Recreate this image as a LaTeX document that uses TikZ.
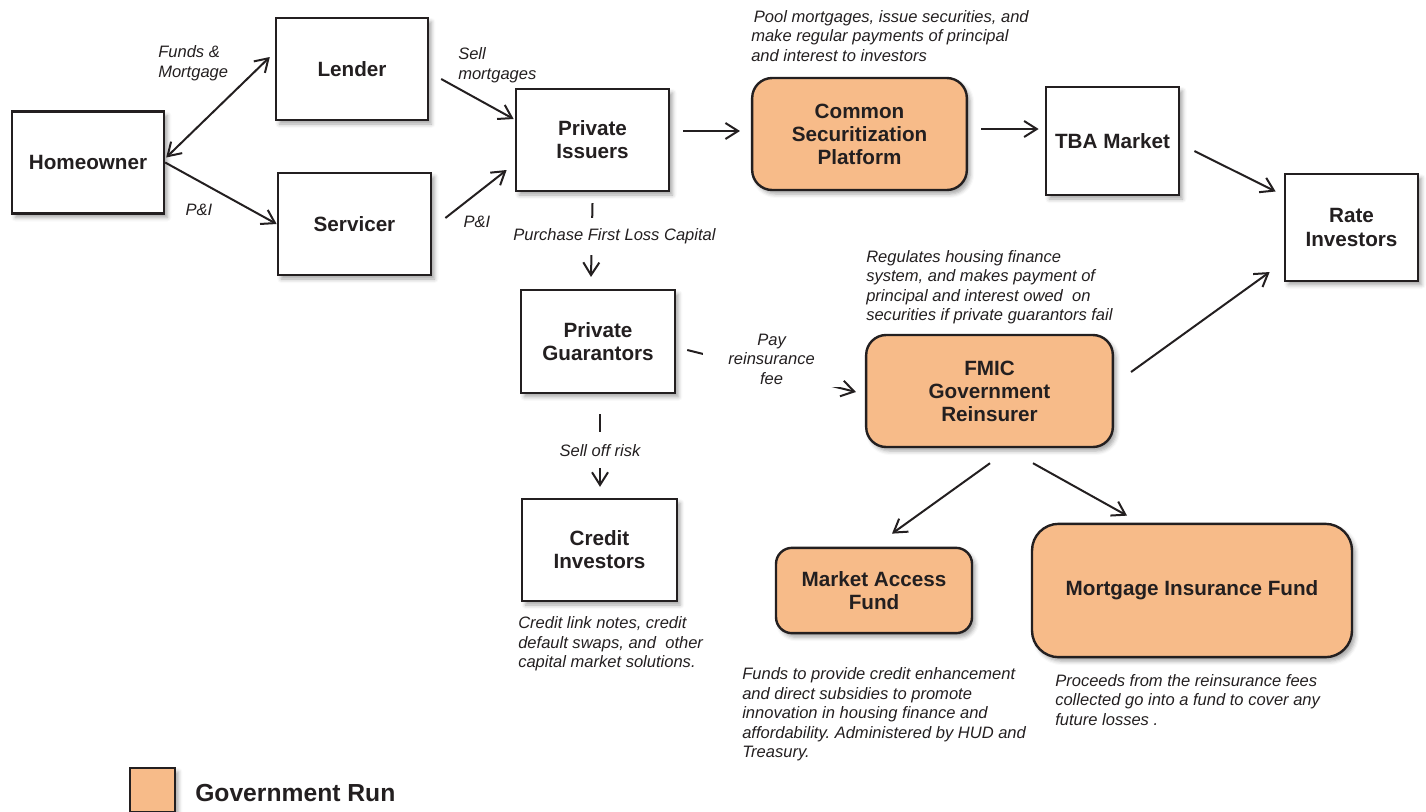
\documentclass[tikz,border=0pt]{standalone}
\usepackage{fontspec}
\setmainfont{Liberation Sans}
\usepackage{xcolor}
\usetikzlibrary{arrows.meta,shadows.blur}
\definecolor{govrun}{RGB}{247,187,137}
\definecolor{ink}{RGB}{35,31,32}
\frenchspacing

\begin{document}
\begin{tikzpicture}[
    x=0.75pt, y=-0.75pt,
    >={Straight Barb[length=9.5pt,width=12pt]},
    every node/.style={text=ink},
    box/.style={draw=ink, line width=1.8pt, fill=white, minimum width=114pt, minimum height=76.5pt, align=center, font=\bfseries\fontsize{15.5}{17.3}\selectfont, blur shadow={shadow xshift=2.5pt, shadow yshift=-3pt, shadow blur radius=3pt, shadow opacity=35}},
    gov/.style={box, fill=govrun, rounded corners=15pt},
    note/.style={align=left, anchor=west, inner sep=0pt, font=\itshape\fontsize{12.4}{14.6}\selectfont},
    lbl/.style={align=center, fill=white, font=\itshape\fontsize{12.4}{14.6}\selectfont},
    flow/.style={->, draw=ink, line width=1.5pt},
]
    \useasboundingbox (0,0) rectangle (1426,811);

    % private side
    \node[box] (home) at (88,162.5) {Homeowner};
    \node[box] (lender) at (352,69) {Lender};
    \node[box, minimum width=115pt] (servicer) at (354.5,224) {Servicer};
    \node[box, minimum width=115pt] (issuers) at (592.5,140) {Private\\Issuers};
    \node[box, minimum width=115.5pt, minimum height=77pt] (guarantors) at (598,341.5) {Private\\Guarantors};
    \node[box, minimum width=116pt] (credit) at (599.5,550) {Credit\\Investors};
    \node[box, minimum width=100pt, minimum height=81pt] (tba) at (1112.5,141) {TBA Market};
    \node[box, minimum width=100pt, minimum height=80pt] (rate) at (1351.5,227.5) {Rate\\Investors};

    % government side
    \node[gov, minimum width=161pt, minimum height=84pt] (csp) at (859.5,134) {Common\\Securitization\\Platform};
    \node[gov, minimum width=185pt, minimum height=84pt] (fmic) at (989.5,391) {FMIC\\Government\\Reinsurer};
    \node[gov, minimum width=147pt, minimum height=64pt, rounded corners=12pt] (maf) at (874,590.5) {Market Access\\Fund};
    \node[gov, minimum width=240pt, minimum height=100pt, rounded corners=20pt] (mif) at (1192,590.5) {Mortgage Insurance Fund};

    % flows
    \draw[flow, <->] ([shift={(1,-5)}]home.east) -- ([shift={(-5,-12)}]lender.west);
    \draw[flow] (home.east) -- (servicer.west);
    \draw[flow] ([shift={(12,10)}]lender.east) -- ([shift={(-1,-21)}]issuers.west);
    \draw[flow] ([shift={(13,-6)}]servicer.east) -- ([shift={(-8,30)}]issuers.west);
    \draw[flow] ([shift={(13,-9)}]issuers.east) -- ([shift={(-11,-3)}]csp.west);
    \draw[flow] ([shift={(13,-5)}]csp.east) -- ([shift={(-6,-12)}]tba.west);
    \draw[flow] ([shift={(14,10)}]tba.east) -- ([shift={(-8,-36)}]rate.west);
    \draw[flow] ([shift={(17,-19)}]fmic.east) -- ([shift={(-14,-10)}]rate.south west);
    \draw[flow] ([shift={(0,11)}]issuers.south) -- node[lbl, pos=0.45, xshift=17pt, inner ysep=8pt] {Purchase First Loss Capital} ([shift={(-7,-12)}]guarantors.north);
    \draw[flow] ([shift={(2,20)}]guarantors.south) -- node[lbl, inner ysep=9pt] {Sell off risk} ([shift={(0.5,-11)}]credit.north);
    \draw[flow] ([shift={(11,8.5)}]guarantors.east) -- node[lbl, yshift=9pt, inner xsep=19pt, inner ysep=2pt] {Pay\\reinsurance\\fee} ([shift={(-9,1)}]fmic.west);
    \draw[flow] ([shift={(0.5,15)}]fmic.south) -- ([shift={(18,-13)}]maf.north);
    \draw[flow] ([shift={(43.5,15)}]fmic.south) -- ([shift={(-65,-7)}]mif.north);

    % labels and notes
    \node[note] (fundslbl) at (158,63) {Funds \&\\Mortgage};
    \node[note, anchor=center] (pilbl) at (199,210) {P\&I};
    \node[note] (selllbl) at (458,65) {Sell\\mortgages};
    \node[note, anchor=center] (pilbltwo) at (477,222) {P\&I};
    \node[note] (cspnote) at (751,36) {\hspace{2pt}Pool mortgages, issue securities, and\\make regular payments of principal\\and interest to investors};
    \node[note] (fmicnote) at (866,287) {Regulates housing finance\\system, and makes payment of\\principal and interest owed~ on\\securities if private guarantors fail};
    \node[note] (creditnote) at (518,644) {Credit link notes, credit\\default swaps, and~ other\\capital market solutions.};
    \node[note] (mafnote) at (742,714.5) {Funds to provide credit enhancement\\and direct subsidies to promote\\innovation in housing finance and\\affordability. Administered by HUD and\\Treasury.};
    \node[note] (mifnote) at (1055,700) {Proceeds from the reinsurance fees\\collected go into a fund to cover any\\future losses .};

    % legend
    \node[gov, rounded corners=0pt, minimum width=33.75pt, minimum height=33pt, inner sep=0pt, line width=1.2pt] (legend) at (152.5,790) {};
    \node[anchor=west, inner sep=0pt, font=\bfseries\fontsize{18.5}{20}\selectfont] (legendtxt) at (195,793) {Government Run};
\end{tikzpicture}
\end{document}
